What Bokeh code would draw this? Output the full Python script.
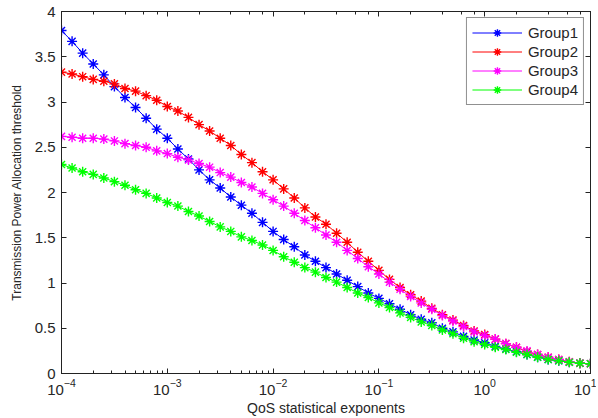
from bokeh.plotting import figure
from bokeh.models import Range1d, LinearAxis, LogAxis, Legend, LegendItem, CustomJSTickFormatter
from bokeh.embed import file_html
from bokeh.resources import INLINE

# x: QoS statistical exponents, 10 points per decade from 1e-4 to 1e1
x_exponents = [-4 + i / 10 for i in range(51)]
qos = [10 ** e for e in x_exponents]

group1 = [3.79, 3.67, 3.54, 3.42, 3.30, 3.17, 3.05, 2.94, 2.82, 2.70,
          2.60, 2.48, 2.37, 2.25, 2.14, 2.05, 1.95, 1.86, 1.77, 1.67,
          1.57, 1.48, 1.40, 1.31, 1.24, 1.17, 1.10, 1.03, 0.96, 0.89,
          0.83, 0.77, 0.71, 0.65, 0.60, 0.56, 0.50, 0.46, 0.41, 0.37,
          0.34, 0.30, 0.27, 0.24, 0.21, 0.18, 0.155, 0.14, 0.125, 0.114, 0.107]
group2 = [3.33, 3.31, 3.28, 3.25, 3.23, 3.20, 3.15, 3.12, 3.07, 3.02,
          2.95, 2.90, 2.83, 2.75, 2.68, 2.60, 2.52, 2.42, 2.33, 2.23,
          2.14, 2.04, 1.94, 1.83, 1.73, 1.65, 1.55, 1.45, 1.34, 1.24,
          1.14, 1.04, 0.95, 0.87, 0.80, 0.72, 0.65, 0.59, 0.53, 0.47,
          0.43, 0.38, 0.33, 0.29, 0.24, 0.21, 0.18, 0.155, 0.13, 0.114, 0.107]
group3 = [2.62, 2.61, 2.60, 2.60, 2.59, 2.57, 2.54, 2.52, 2.50, 2.46,
          2.43, 2.39, 2.36, 2.32, 2.28, 2.22, 2.17, 2.11, 2.06, 1.99,
          1.92, 1.85, 1.77, 1.69, 1.61, 1.53, 1.45, 1.36, 1.27, 1.18,
          1.10, 1.01, 0.93, 0.85, 0.78, 0.71, 0.64, 0.58, 0.52, 0.46,
          0.42, 0.38, 0.33, 0.29, 0.25, 0.21, 0.18, 0.155, 0.13, 0.114, 0.107]
group4 = [2.31, 2.27, 2.23, 2.20, 2.16, 2.12, 2.08, 2.03, 1.99, 1.94,
          1.89, 1.85, 1.79, 1.74, 1.68, 1.62, 1.57, 1.51, 1.47, 1.42,
          1.36, 1.29, 1.23, 1.17, 1.12, 1.06, 1.01, 0.95, 0.89, 0.84,
          0.78, 0.73, 0.67, 0.62, 0.57, 0.53, 0.48, 0.44, 0.39, 0.35,
          0.32, 0.29, 0.265, 0.235, 0.21, 0.18, 0.155, 0.14, 0.125, 0.114, 0.107]

series = [("Group1", group1, "#0000FF"),
          ("Group2", group2, "#FF0000"),
          ("Group3", group3, "#FF00FF"),
          ("Group4", group4, "#00FF00")]

y_ticks = [0, 0.5, 1, 1.5, 2, 2.5, 3, 3.5, 4]
y_tick_labels = ["0", "0.5", "1", "1.5", "2", "2.5", "3", "3.5", "4"]

FONT = "Liberation Sans"
TXT = "#262626"

p = figure(width=596, height=418, x_axis_type="log",
           x_range=Range1d(1e-4, 10), y_range=Range1d(0, 4),
           output_backend="svg", toolbar_location=None,
           min_border_left=61, min_border_right=6, min_border_top=11,
           min_border_bottom=45)
p.xgrid.visible = False
p.ygrid.visible = False
p.outline_line_color = "#222222"
p.outline_line_width = 1

items = []
for name, vals, col in series:
    r1 = p.line(qos, vals, line_color=col, line_width=1)
    r2 = p.scatter(qos, vals, marker="asterisk", size=10, line_color=col, line_width=1.4)
    items.append(LegendItem(label=name, renderers=[r1, r2]))

legend = Legend(items=items, location="top_right",
                border_line_color="#222222", border_line_width=1.5,
                background_fill_color="white", background_fill_alpha=1,
                label_text_font=FONT, label_text_font_size="15px",
                label_text_color=TXT, glyph_width=50, glyph_height=19,
                label_height=19, spacing=0, padding=5, margin=6,
                label_standoff=6)
p.add_layout(legend)

for ax in (p.xaxis[0], p.yaxis[0]):
    ax.major_tick_in = 5
    ax.major_tick_out = 0
    ax.minor_tick_in = 3
    ax.minor_tick_out = 0
    ax.axis_line_color = "#222222"
    ax.major_tick_line_color = "#222222"
    ax.minor_tick_line_color = "#222222"
    ax.major_label_text_font = FONT
    ax.major_label_text_font_size = "15px"
    ax.major_label_text_color = TXT
    ax.axis_label_text_font = FONT
    ax.axis_label_text_font_style = "normal"
    ax.axis_label_text_color = TXT

p.yaxis[0].ticker = y_ticks
p.yaxis[0].major_label_overrides = {t: l for t, l in zip(y_ticks, y_tick_labels)}
p.yaxis[0].minor_tick_in = 0
p.yaxis[0].major_label_standoff = 6
p.yaxis[0].axis_label = "Transmission Power Allocation threshold"
p.yaxis[0].axis_label_text_font_size = "12px"
p.yaxis[0].axis_label_standoff = 8
p.xaxis[0].axis_label = "QoS statistical exponents"
p.xaxis[0].axis_label_text_font_size = "14px"
p.xaxis[0].axis_label_standoff = 2
p.xaxis[0].major_label_standoff = 5

blank = CustomJSTickFormatter(code="return '';")
right = LinearAxis(ticker=y_ticks, major_tick_in=5, major_tick_out=0,
                   minor_tick_in=0, minor_tick_out=0, formatter=blank,
                   major_label_standoff=0,
                   axis_line_color="#222222", major_tick_line_color="#222222")
p.add_layout(right, "right")
top = LogAxis(major_tick_in=5, major_tick_out=0, minor_tick_in=3, minor_tick_out=0,
              formatter=CustomJSTickFormatter(code="return '';"),
              major_label_standoff=0,
              axis_line_color="#222222", major_tick_line_color="#222222",
              minor_tick_line_color="#222222")
p.add_layout(top, "above")

open("out.html", "w").write(file_html(p, INLINE))
